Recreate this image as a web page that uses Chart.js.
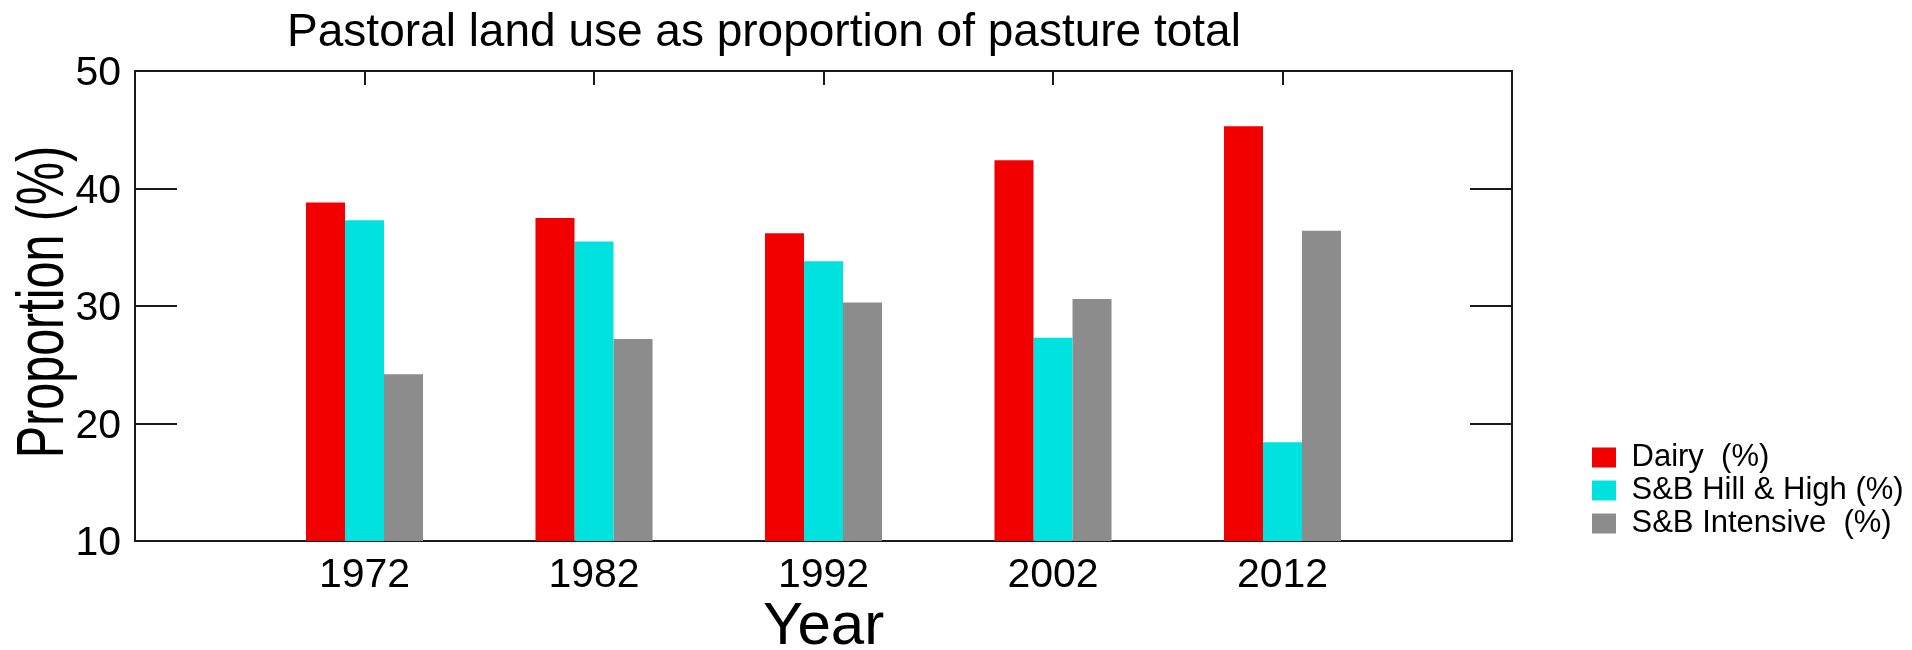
<!DOCTYPE html>
<html>
<head>
<meta charset="utf-8">
<title>Pastoral land use as proportion of pasture total</title>
<script src="https://cdn.jsdelivr.net/npm/chart.js@4.4.1/dist/chart.umd.min.js"></script>
<style>
  html, body { margin: 0; padding: 0; background: #fff; }
  canvas { display: block; }
</style>
</head>
<body>
<canvas id="myChart" width="1912" height="650"></canvas>
<script>
  'use strict'

  // Values
  const years = [1972, 1982, 1992, 2002, 2012]
  const dairy = [38.8, 37.5, 36.2, 42.4, 45.3]
  const hillHigh = [37.3, 35.5, 33.8, 27.3, 18.4]
  const intensive = [24.2, 27.2, 30.3, 30.6, 36.4]
  const yTicks = [10, 20, 30, 40, 50]

  const chartTitle = 'Pastoral land use as proportion of pasture total'
  const yTitle = 'Proportion (%)'

  Chart.defaults.font.family = '"Liberation Sans", Arial, sans-serif'
  Chart.defaults.color = '#000'

  const points = (vals) => years.map((x, i) => ({ x: x, y: vals[i] }))

  // box around the plot, inward ticks, the title and the squeezed y title
  const frame = {
    id: 'frame',
    beforeDatasetsDraw(chart) {
      const { ctx, chartArea: a, scales } = chart
      ctx.save()
      ctx.strokeStyle = '#1a1a1a'
      ctx.lineWidth = 2
      ctx.strokeRect(a.left, a.top, a.right - a.left, a.bottom - a.top)
      ctx.beginPath()
      yTicks.forEach(v => {
        const y = Math.round(scales.y.getPixelForValue(v))
        ctx.moveTo(a.left, y)
        ctx.lineTo(a.left + 42, y)
        ctx.moveTo(a.right - 42, y)
        ctx.lineTo(a.right, y)
      })
      years.forEach(v => {
        const x = Math.round(scales.x.getPixelForValue(v))
        ctx.moveTo(x, a.top)
        ctx.lineTo(x, a.top + 14)
      })
      ctx.stroke()
      ctx.restore()
    },
    afterDraw(chart) {
      const ctx = chart.ctx
      ctx.save()
      ctx.fillStyle = '#000'
      ctx.textAlign = 'center'
      ctx.textBaseline = 'alphabetic'
      ctx.font = '46px "Liberation Sans", Arial, sans-serif'
      ctx.fillText(chartTitle, 764, 46)

      // the original y title is a tall, narrow type
      ctx.translate(63, (chart.chartArea.top + chart.chartArea.bottom) / 2 - 4)
      ctx.rotate(-Math.PI / 2)
      ctx.scale(0.734, 1)
      ctx.font = '66px "Liberation Sans", Arial, sans-serif'
      ctx.fillText(yTitle, 0, 0)
      ctx.restore()
    }
  }

  const ctx = document.getElementById('myChart')
  const myChart = new Chart(ctx, {
    type: 'bar',
    data: {
      datasets: [{
        label: 'Dairy  (%)',
        data: points(dairy),
        backgroundColor: '#f20000'
      }, {
        label: 'S&B Hill & High (%)',
        data: points(hillHigh),
        backgroundColor: '#00e2e0'
      }, {
        label: 'S&B Intensive  (%)',
        data: points(intensive),
        backgroundColor: '#8c8c8c'
      }]
    },
    options: {
      responsive: false,
      animation: false,
      devicePixelRatio: 1,
      categoryPercentage: 0.51,
      barPercentage: 1,
      borderWidth: 0,
      layout: {
        padding: { top: 71, right: 4, bottom: 0, left: 0 }
      },
      scales: {
        x: {
          type: 'linear',
          min: 1962,
          max: 2022,
          offset: false,
          grid: { display: false, drawTicks: false },
          border: { display: false },
          afterBuildTicks: s => { s.ticks = years.map(v => ({ value: v })) },
          afterFit: s => { s.height = 109 },
          ticks: {
            font: { size: 41 },
            padding: 10,
            maxRotation: 0,
            autoSkip: false,
            callback: v => String(v)
          },
          title: {
            display: true,
            text: 'Year',
            font: { size: 60, lineHeight: 0.75 },
            padding: 0
          }
        },
        y: {
          min: 10,
          max: 50,
          grid: { display: false, drawTicks: false },
          border: { display: false },
          afterFit: s => { s.width = 135 },
          ticks: {
            stepSize: 10,
            font: { size: 41 },
            padding: 14,
            labelOffset: 3
          }
        },
        y2: {
          position: 'right',
          grid: { display: false, drawTicks: false },
          border: { display: false },
          ticks: { display: false },
          afterFit: s => { s.width = 78 }
        }
      },
      plugins: {
        legend: {
          position: 'right',
          align: 'end',
          fullSize: false,
          labels: {
            boxWidth: 24,
            boxHeight: 20,
            padding: 2,
            font: { size: 31 },
            color: '#000'
          }
        },
        tooltip: { enabled: false }
      }
    },
    plugins: [frame]
  })
</script>
</body>
</html>
